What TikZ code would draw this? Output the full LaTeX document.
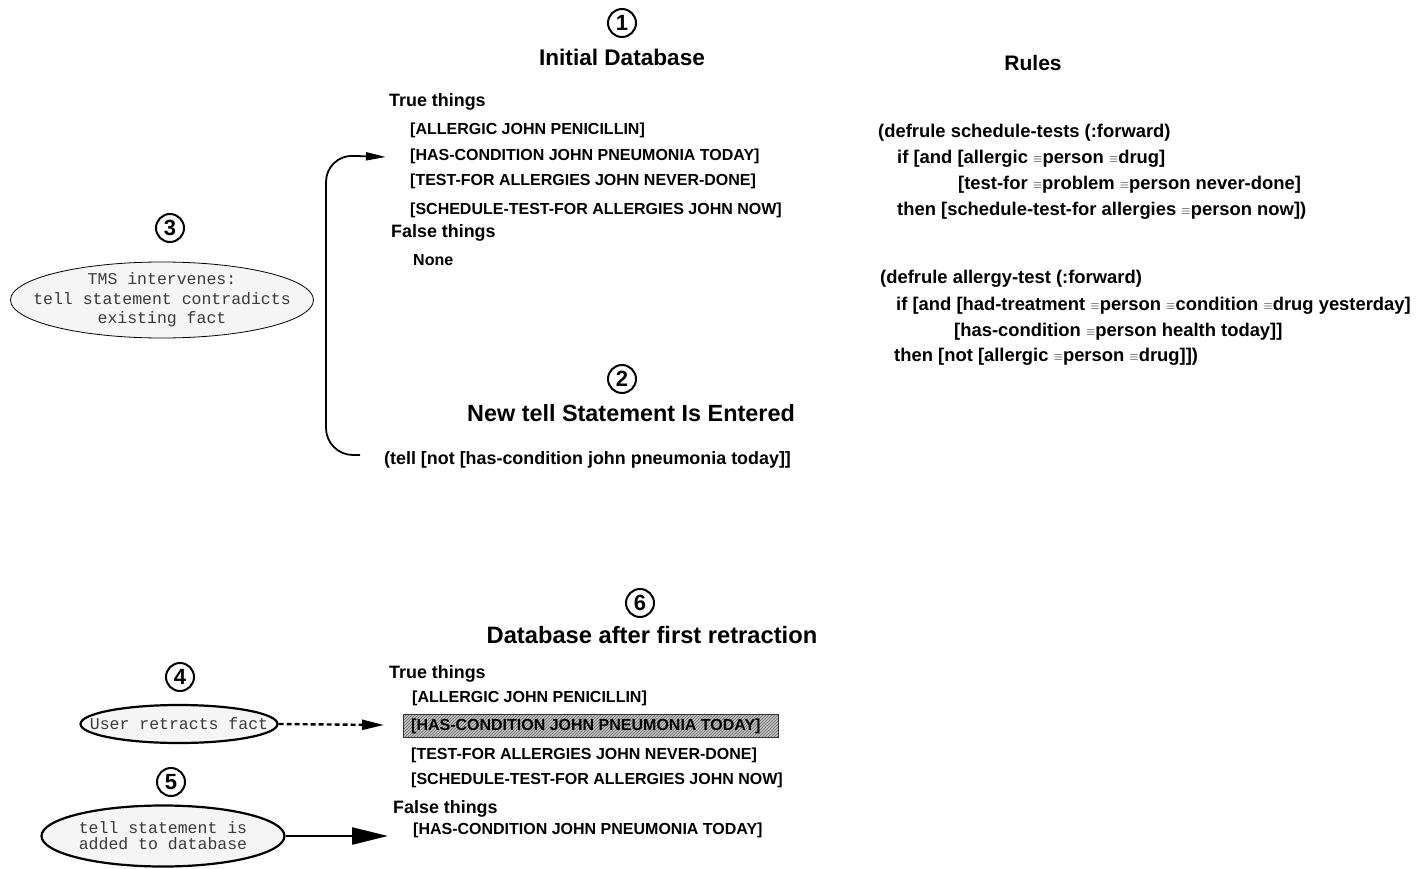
\documentclass[tikz,border=0pt]{standalone}
\usepackage{fontspec}
\setmainfont{Liberation Sans}
\setmonofont{Liberation Mono}
\usetikzlibrary{arrows.meta,shapes.geometric,patterns,calc}
\newcommand\eqv{\raisebox{1pt}{\fontsize{12.5}{12}\selectfont$\equiv$}}
\definecolor{ellfill}{HTML}{F5F5F5}
\definecolor{elltext}{HTML}{3A3A3A}
\tikzset{
  numc/.style={circle,draw,line width=2pt,minimum size=28pt,inner sep=0pt,font=\fontsize{22}{22}\selectfont\bfseries},
  title/.style={inner sep=0pt,font=\fontsize{23}{24}\selectfont\bfseries},
  subhead/.style={anchor=west,inner sep=0pt,font=\fontsize{17.9}{20}\selectfont\bfseries},
  item/.style={anchor=west,inner sep=0pt,font=\fontsize{16}{18}\selectfont\bfseries},
  rule/.style={anchor=west,inner sep=0pt,font=\fontsize{18.4}{20}\selectfont\bfseries},
  ell/.style={ellipse,draw,fill=ellfill,inner sep=-40pt,text=elltext,align=center,font=\fontsize{16.5}{19.5}\selectfont\ttfamily},
  conn/.style={line width=1.8pt},
}
\begin{document}
\begin{tikzpicture}[x=1pt,y=-1pt]
\useasboundingbox (0,0) rectangle (1421,869);
% ---------- Initial database ----------
\node[numc] (n1) at (622,23) {1};
\node[title,font=\fontsize{22.6}{24}\selectfont\bfseries] (t1) at (622,57) {Initial Database};
\node[subhead] (tt1) at (389,102) {True things};
\node[item] (a1) at (410,130) {[ALLERGIC JOHN PENICILLIN]};
\node[item] (hc1) at (410,156) {[HAS-CONDITION JOHN PNEUMONIA TODAY]};
\node[item] (tf1) at (410,181) {[TEST-FOR ALLERGIES JOHN NEVER-DONE]};
\node[item] (st1) at (410,210) {[SCHEDULE-TEST-FOR ALLERGIES JOHN NOW]};
\node[subhead] (ft1) at (391,233) {False things};
\node[item] (none) at (413,260) {None};
% ---------- New tell ----------
\node[numc] (n2) at (622,379) {2};
\node[title,font=\fontsize{23.4}{24}\selectfont\bfseries] (t2) at (631,413) {New tell Statement Is Entered};
\node[item,font=\fontsize{17.9}{20}\selectfont\bfseries] (tell) at (384,460) {(tell [not [has-condition john pneumonia today]]};
\coordinate (tstart) at (360,455);
\coordinate (bend) at (326,155);
\draw[conn,rounded corners=27,-{Triangle[length=20pt,width=8pt]}] (tstart) -| (bend) -- ([xshift=-24pt,yshift=-1pt]hc1.west);
% ---------- TMS ----------
\node[numc] (n3) at (170,228) {3};
\node[ell,line width=0.8pt,minimum width=303pt,minimum height=76pt] (e3) at (162,300) {TMS intervenes:\\tell statement contradicts\\existing fact};
% ---------- Rules ----------
\node[inner sep=0pt,font=\fontsize{21}{22}\selectfont\bfseries] (rules) at (1033,63) {Rules};
\node[rule] (r11) at (878,133) {(defrule schedule-tests (:forward)};
\node[rule] (r12) at (897,159) {if [and [allergic \eqv person \eqv drug]};
\node[rule] (r13) at (958,185) {[test-for \eqv problem \eqv person never-done]};
\node[rule] (r14) at (897,211) {then [schedule-test-for allergies \eqv person now])};
\node[rule] (r21) at (880,279) {(defrule allergy-test (:forward)};
\node[rule] (r22) at (896,306) {if [and [had-treatment \eqv person \eqv condition \eqv drug yesterday]};
\node[rule] (r23) at (954,332) {[has-condition \eqv person health today]]};
\node[rule] (r24) at (894,357) {then [not [allergic \eqv person \eqv drug]])};
% ---------- Database after first retraction ----------
\node[numc] (n6) at (640,603) {6};
\node[title,font=\fontsize{23.7}{24}\selectfont\bfseries] (t6) at (652,635) {Database after first retraction};
\node[subhead] (tt6) at (389,674) {True things};
\node[item] (a6) at (412,698) {[ALLERGIC JOHN PENICILLIN]};
\node[draw=black!80,line width=1pt,preaction={fill=gray!45},pattern=north east lines,pattern color=gray!75!black,minimum width=375pt,minimum height=23pt,inner sep=0pt] (hbox) at (590.5,725.5) {};
\node[item] (hc6) at (411,726) {[HAS-CONDITION JOHN PNEUMONIA TODAY]};
\node[item] (tf6) at (411,755) {[TEST-FOR ALLERGIES JOHN NEVER-DONE]};
\node[item] (st6) at (411,780) {[SCHEDULE-TEST-FOR ALLERGIES JOHN NOW]};
\node[subhead] (ft6) at (393,809) {False things};
\node[item] (hf6) at (413,830) {[HAS-CONDITION JOHN PNEUMONIA TODAY]};
% ---------- User retracts ----------
\node[numc] (n4) at (180,677) {4};
\node[ell,line width=2.2pt,minimum width=197pt,minimum height=38pt] (e4) at (179,724) {User retracts fact};
\coordinate (d4) at (384,725);
\draw[line width=2.4pt,dash pattern=on 5pt off 3pt,-{Triangle[length=22pt,width=10pt]}] (e4.east) -- (d4);
% ---------- tell added ----------
\node[numc] (n5) at (171,782) {5};
\node[ell,line width=2.2pt,minimum width=243pt,minimum height=61pt,font=\fontsize{16.5}{16}\selectfont\ttfamily] (e5) at (163,836) {tell statement is\\added to database};
\coordinate (d5) at (388,836);
\draw[line width=2.5pt,-{Triangle[length=36pt,width=17pt]}] (e5.east) -- (d5);
\end{tikzpicture}
\end{document}
